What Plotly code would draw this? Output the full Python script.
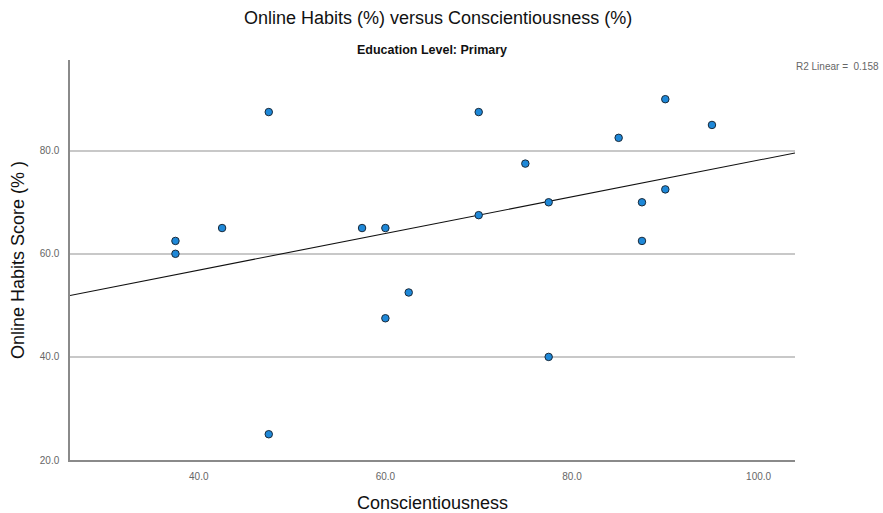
import numpy as np
import plotly.graph_objects as go

# Conscientiousness (%) and Online Habits Score (%) for the Primary group
conscientiousness = [37.5, 37.5, 42.5, 47.5, 47.5, 57.5, 60.0, 60.0, 62.5, 70.0,
                     70.0, 75.0, 77.5, 77.5, 85.0, 87.5, 87.5, 90.0, 90.0, 95.0]
online_habits = [62.5, 60.0, 65.0, 87.5, 25.0, 65.0, 65.0, 47.5, 52.5, 87.5,
                 67.5, 77.5, 70.0, 40.0, 82.5, 70.0, 62.5, 90.0, 72.5, 85.0]

x_ticks = [40, 60, 80, 100]
y_ticks = [20, 40, 60, 80]
x_range = [26.2, 103.9]
y_range = [20, 97.6]

# Linear fit and R squared
x = np.array(conscientiousness)
y = np.array(online_habits)
slope, intercept = np.polyfit(x, y, 1)
r2 = np.corrcoef(x, y)[0, 1] ** 2
fit_x = np.array(x_range)
fit_y = intercept + slope * fit_x

fig = go.Figure()
fig.add_trace(go.Scatter(
    x=fit_x, y=fit_y, mode="lines",
    line=dict(color="#111111", width=1.1),
    hoverinfo="skip", showlegend=False,
))
fig.add_trace(go.Scatter(
    x=conscientiousness, y=online_habits, mode="markers",
    marker=dict(size=7.5, color="#1e88d8", line=dict(color="#1a2a3a", width=1)),
    showlegend=False,
))

sans = "Liberation Sans, Arial, sans-serif"
narrow = "Liberation Sans Narrow, Arial Narrow, Liberation Sans, sans-serif"
tick_font = dict(family=narrow, size=10, color="#666666")
title_font = dict(family=sans, size=18, color="#111111")

PW, PH = 725, 400  # plot area in pixels

fig.update_layout(
    width=883, height=513,
    margin=dict(l=70, r=88, t=60, b=53),
    paper_bgcolor="white", plot_bgcolor="white",
    font=dict(family=sans),
    xaxis=dict(
        range=x_range, tickvals=x_ticks,
        ticktext=[f"{v:.1f}" for v in x_ticks],
        showgrid=False, zeroline=False, automargin=False,
        showline=True, linecolor="#8a8a8a", linewidth=2,
        ticks="", ticklabelstandoff=6, tickfont=tick_font,
    ),
    yaxis=dict(
        range=y_range, tickvals=y_ticks,
        ticktext=[f"{v:.1f}" for v in y_ticks],
        showgrid=True, gridcolor="#c8c8c8", gridwidth=1.5,
        zeroline=False, automargin=False,
        showline=True, linecolor="#8a8a8a", linewidth=1.5,
        ticks="", ticklabelstandoff=7, tickfont=tick_font,
    ),
    annotations=[
        dict(text="Online Habits (%) versus Conscientiousness (%)",
             xref="paper", yref="paper", x=(438 - 70) / PW, y=1 + 42 / PH,
             xanchor="center", yanchor="middle", showarrow=False,
             font=dict(family=sans, size=18, color="#111111")),
        dict(text="<b>Education Level: Primary</b>",
             xref="paper", yref="paper", x=(432 - 70) / PW, y=1 + 10 / PH,
             xanchor="center", yanchor="middle", showarrow=False,
             font=dict(family=sans, size=12.5, color="#111111")),
        dict(text=f"R2 Linear =  {r2:.3f}",
             xref="paper", yref="paper", x=1 + 86 / PW, y=1 - 7 / PH,
             xanchor="right", yanchor="middle", showarrow=False,
             font=dict(family=narrow, size=10, color="#666666")),
        dict(text="Conscientiousness",
             xref="paper", yref="paper", x=0.5, y=-43 / PH,
             xanchor="center", yanchor="middle", showarrow=False,
             font=title_font),
        dict(text="Online Habits Score (% )",
             xref="paper", yref="paper", x=-52 / PW, y=0.5, textangle=-90,
             xanchor="center", yanchor="middle", showarrow=False,
             font=title_font),
    ],
)

fig.write_html("out.html")
